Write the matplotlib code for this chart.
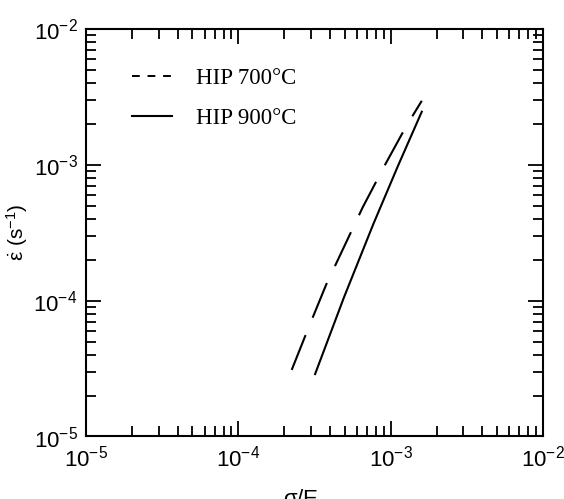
import matplotlib
matplotlib.use("Agg")
import matplotlib.pyplot as plt
from matplotlib import font_manager
from matplotlib.lines import Line2D
from matplotlib.ticker import LogLocator, NullFormatter, FixedLocator

# Creep rate versus normalised stress for two HIP temperatures
x_700 = [2.24e-4, 2.86e-4, 3.77e-4, 4.89e-4, 6.56e-4, 9.10e-4, 1.26e-3, 1.60e-3]
y_700 = [3.09e-5, 6.15e-5, 1.31e-4, 2.43e-4, 4.88e-4, 9.82e-4, 1.91e-3, 2.96e-3]
x_900 = [3.19e-4, 4.94e-4, 7.69e-4, 1.12e-3, 1.60e-3]
y_900 = [2.88e-5, 1.06e-4, 3.66e-4, 9.90e-4, 2.46e-3]

series_labels = ["HIP 700\u00b0C", "HIP 900\u00b0C"]
major_ticks = [1e-5, 1e-4, 1e-3, 1e-2]
tick_labels = [r"$10^{-5}$", r"$10^{-4}$", r"$10^{-3}$", r"$10^{-2}$"]

installed = {f.name for f in font_manager.fontManager.ttflist}
tick_font = "Liberation Sans Narrow" if "Liberation Sans Narrow" in installed else "Liberation Sans"

plt.rcParams["mathtext.fontset"] = "custom"
plt.rcParams["mathtext.rm"] = tick_font
plt.rcParams["mathtext.it"] = tick_font + ":italic"
plt.rcParams["mathtext.default"] = "rm"

fig = plt.figure(figsize=(5.64, 4.99), dpi=100)
ax = fig.add_axes([0.1525, 0.1253, 0.8103, 0.8166])

ax.plot(x_700, y_700, color="black", lw=1.5, dashes=(18, 9))
ax.plot(x_900, y_900, color="black", lw=1.5)

ax.set_xscale("log")
ax.set_yscale("log")
ax.set_xlim(1e-5, 1e-2)
ax.set_ylim(1e-5, 1e-2)

for axis in (ax.xaxis, ax.yaxis):
    axis.set_major_locator(FixedLocator(major_ticks))
    axis.set_minor_locator(LogLocator(base=10, subs=range(2, 10)))
    axis.set_minor_formatter(NullFormatter())
ax.set_xticklabels(tick_labels)
ax.set_yticklabels(tick_labels)

ax.tick_params(which="both", direction="in", top=True, right=True, width=1.3, colors="black")
ax.tick_params(which="major", length=11, labelsize=16, pad=6)
ax.tick_params(which="minor", length=7)
for s in ax.spines.values():
    s.set_linewidth(1.5)

ax.set_xlabel(r"$\sigma$/E", fontsize=16, family=tick_font)
ax.xaxis.set_label_coords(0.47, -0.128)
ax.set_ylabel(r"$\dot{\varepsilon}$ (s$^{-1}$)", fontsize=15, family=tick_font)
ax.yaxis.set_label_coords(-0.122, 0.5)

handles = [
    Line2D([], [], color="black", lw=1.4, dashes=(4, 4)),
    Line2D([], [], color="black", lw=1.5),
]
ax.legend(handles, series_labels, loc="upper left", bbox_to_anchor=(0.1, 0.905),
          frameon=False, borderpad=0, borderaxespad=0, handlelength=1.75,
          handletextpad=1.05, labelspacing=0.85,
          prop={"family": "Liberation Serif", "size": 16.5})

fig.savefig("out.png", dpi=100)
